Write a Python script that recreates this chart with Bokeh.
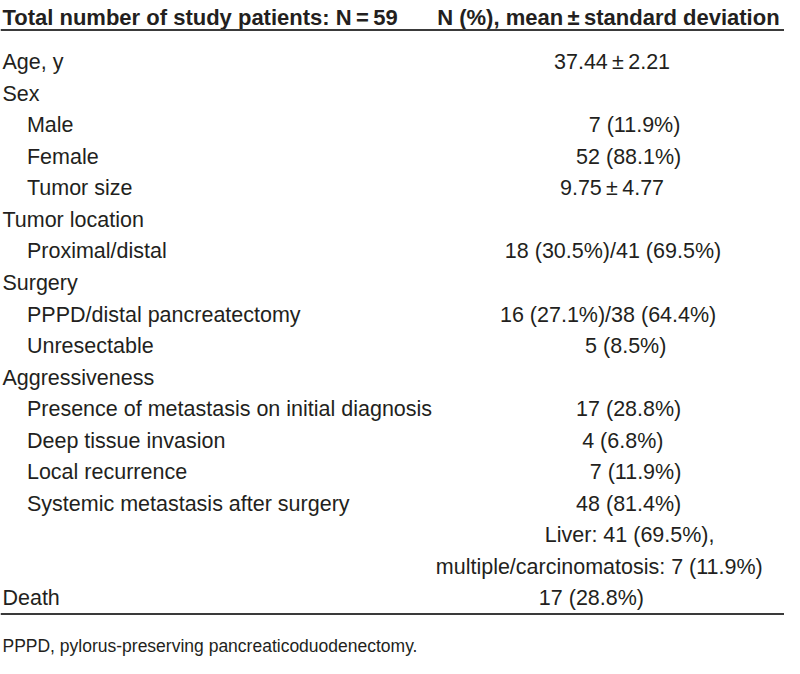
from bokeh.plotting import figure
from bokeh.models import Range1d, Span, ColumnDataSource
from bokeh.core.properties import value
from bokeh.embed import file_html
from bokeh.resources import INLINE

# ---- table content ----
header_left = "Total number of study patients: N\u2009=\u200959"
header_right = "N (%), mean\u2009±\u2009standard deviation"

row_labels = [
    "Age, y", "Sex", "Male", "Female", "Tumor size",
    "Tumor location", "Proximal/distal",
    "Surgery", "PPPD/distal pancreatectomy", "Unresectable",
    "Aggressiveness", "Presence of metastasis on initial diagnosis",
    "Deep tissue invasion", "Local recurrence",
    "Systemic metastasis after surgery", "", "", "Death",
]
row_level = [0, 0, 1, 1, 1, 0, 1, 0, 1, 1, 0, 1, 1, 1, 1, 1, 1, 0]
row_values = [
    "37.44\u2009±\u20092.21", "", "7 (11.9%)", "52 (88.1%)", "9.75\u2009±\u20094.77",
    "", "18 (30.5%)/41 (69.5%)",
    "", "16 (27.1%)/38 (64.4%)", "5 (8.5%)",
    "", "17 (28.8%)", "4 (6.8%)", "7 (11.9%)", "48 (81.4%)",
    "Liver: 41 (69.5%),", "multiple/carcinomatosis: 7 (11.9%)", "17 (28.8%)",
]
footnote = "PPPD, pylorus-preserving pancreaticoduodenectomy."

# ---- layout (pixel space of the reference page) ----
value_centers = [624, 0, 647, 641, 624, 0, 625, 0, 620, 638, 0, 641, 635, 648, 641, 642, 611, 603]
first_baseline = 65.7
row_step = 32.6
left_x = 2
indent_x = 27
FONT = "Liberation Sans"
TXT = "#231f20"

W, H = 784, 658
p = figure(width=W, height=H, output_backend="svg", toolbar_location=None,
           x_range=Range1d(0, 800), y_range=Range1d(682, 2),
           min_border=0, outline_line_color=None,
           background_fill_color="white", border_fill_color="white")
p.xaxis.visible = False
p.yaxis.visible = False
p.xgrid.visible = False
p.ygrid.visible = False

ys = [first_baseline + i * row_step for i in range(len(row_labels))]
xs = [indent_x if lv else left_x for lv in row_level]

lab_src = ColumnDataSource(dict(x=xs, y=ys, t=row_labels))
p.text(x="x", y="y", text="t", source=lab_src, text_font=value(FONT),
       text_font_size="21.5px", text_color=TXT, text_align="left",
       text_baseline="alphabetic")

vi = [i for i, v in enumerate(row_values) if v]
val_src = ColumnDataSource(dict(x=[value_centers[i] for i in vi],
                                y=[ys[i] for i in vi],
                                t=[row_values[i] for i in vi]))
p.text(x="x", y="y", text="t", source=val_src, text_font=value(FONT),
       text_font_size="21.5px", text_color=TXT, text_align="center",
       text_baseline="alphabetic")

# header
hdr = ColumnDataSource(dict(x=[left_x, 795], y=[19.5, 19.5], t=[header_left, header_right],
                            a=["left", "right"]))
p.text(x="x", y="y", text="t", source=hdr, text_font=value(FONT),
       text_font_size="22px", text_font_style="bold", text_color=TXT,
       text_align="a", text_baseline="alphabetic")

# rules
p.add_layout(Span(location=32.5, dimension="width", line_color="#3a3a3a", line_width=2))
p.add_layout(Span(location=636, dimension="width", line_color="#3a3a3a", line_width=2))

# footnote
fn = ColumnDataSource(dict(x=[left_x], y=[669], t=[footnote]))
p.text(x="x", y="y", text="t", source=fn, text_font=value(FONT),
       text_font_size="17.5px", text_color=TXT, text_align="left",
       text_baseline="alphabetic")

open("out.html", "w").write(file_html(p, INLINE))
